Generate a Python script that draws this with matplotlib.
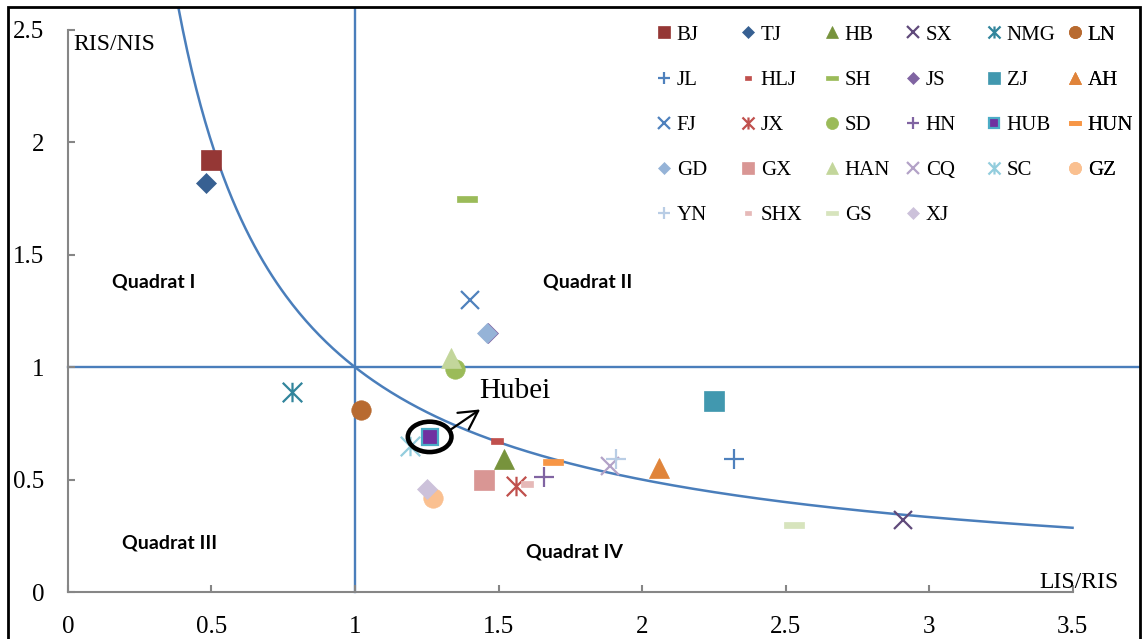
import numpy as np
import matplotlib
matplotlib.use("Agg")
import matplotlib.pyplot as plt
from matplotlib.path import Path
from matplotlib.patches import Ellipse, Rectangle

plt.rcParams['font.family'] = ['Liberation Serif', 'DejaVu Serif']

# province codes and their two ratios
provinces = ["BJ", "TJ", "HB", "SX", "NMG", "LN",
             "JL", "HLJ", "SH", "JS", "ZJ", "AH",
             "FJ", "JX", "SD", "HN", "HUB", "HUN",
             "GD", "GX", "HAN", "CQ", "SC", "GZ",
             "YN", "SHX", "GS", "XJ"]
lis_ris = [0.50, 0.48, 1.52, 2.91, 0.78, 1.02,
           2.32, 1.495, 1.39, 1.465, 2.25, 2.06,
           1.40, 1.56, 1.35, 1.66, 1.26, 1.69,
           1.46, 1.45, 1.335, 1.89, 1.19, 1.27,
           1.91, 1.60, 2.53, 1.25]
ris_nis = [1.92, 1.82, 0.59, 0.32, 0.89, 0.81,
           0.59, 0.67, 1.75, 1.15, 0.85, 0.55,
           1.30, 0.47, 0.99, 0.51, 0.69, 0.58,
           1.15, 0.50, 1.04, 0.56, 0.65, 0.42,
           0.59, 0.48, 0.30, 0.46]

# excel-like marker shapes
asterisk = Path([(-0.5, -0.5), (0.5, 0.5), (-0.5, 0.5), (0.5, -0.5), (0, -0.5), (0, 0.5)],
                [Path.MOVETO, Path.LINETO, Path.MOVETO, Path.LINETO, Path.MOVETO, Path.LINETO])
long_dash = Path([(-0.5, -0.14), (0.5, -0.14), (0.5, 0.14), (-0.5, 0.14), (-0.5, -0.14)],
                 [Path.MOVETO, Path.LINETO, Path.LINETO, Path.LINETO, Path.CLOSEPOLY])
short_dash = Path([(-0.5, -0.25), (0.5, -0.25), (0.5, 0.25), (-0.5, 0.25), (-0.5, -0.25)],
                  [Path.MOVETO, Path.LINETO, Path.LINETO, Path.LINETO, Path.CLOSEPOLY])

shape = {"sq": ("s", 14), "dia": ("D", 10), "tri": ("^", 14), "x": ("x", 13),
         "ast": (asterisk, 14), "o": ("o", 14), "+": ("+", 14),
         "sdash": (short_dash, 8), "ldash": (long_dash, 15)}
markers = ["sq", "dia", "tri", "x", "ast", "o",
           "+", "sdash", "ldash", "dia", "sq", "tri",
           "x", "ast", "o", "+", "sq", "ldash",
           "dia", "sq", "tri", "x", "ast", "o",
           "+", "sdash", "ldash", "dia"]
colors = ["#953735", "#376092", "#77933C", "#604A7B", "#31859C", "#B86A30",
          "#4F81BD", "#C0504D", "#9BBB59", "#8064A2", "#4198AF", "#E0843A",
          "#4F81BD", "#C0504D", "#9BBB59", "#8064A2", "#7030A0", "#F79646",
          "#95B3D7", "#D99694", "#C3D69B", "#B3A2C7", "#93CDDD", "#FAC090",
          "#B9CDE5", "#E6B9B8", "#D7E4BD", "#CCC1DA"]

W, H = 1143, 639
fig = plt.figure(figsize=(W / 100, H / 100), dpi=100)
ax = fig.add_axes([8 / W, 0, (1140 - 8) / W, (H - 7) / H])
ax.set_xlim(-0.209, 3.735)
ax.set_ylim(-0.209, 2.602)

blue = "#4A7EBB"
ax.plot([1, 1], [0, 2.602], color=blue, lw=1.7, zorder=1)
ax.plot([0, 3.735], [1, 1], color=blue, lw=1.7, zorder=1)
xc = np.linspace(1 / 2.602, 3.5, 400)
ax.plot(xc, 1 / xc, color=blue, lw=1.8, zorder=1)

handles = []
for name, x, y, m, c in zip(provinces, lis_ris, ris_nis, markers, colors):
    mk, ms = shape[m]
    kw = dict(marker=mk, ms=ms, ls="none", label=name, zorder=3)
    if m in ("x", "+", "ast"):
        kw.update(mec=c, mfc="none", mew=1.6)
    elif name == "HUB":
        kw.update(mfc=c, mec="#4BACC6", mew=1.6, ms=12)
    else:
        kw.update(mfc=c, mec=c, mew=0.5)
    h, = ax.plot([x], [y], **kw)
    handles.append(h)

# one legend per column so the columns sit on a fixed grid
col_x = [656, 740, 824, 905, 986, 1067]
for c in range(6):
    leg = ax.legend(handles=handles[c::6], loc="upper left",
                    bbox_to_anchor=(col_x[c] / W, 1 - 25 / H), bbox_transform=fig.transFigure,
                    frameon=False, fontsize=15, markerscale=0.62, handlelength=0.8,
                    handletextpad=0.2, labelspacing=1.23, borderpad=0, borderaxespad=0)
    ax.add_artist(leg)

# axes drawn at the origin, grey, with inward ticks
for s in ("top", "right"):
    ax.spines[s].set_visible(False)
ax.spines["left"].set_position(("data", 0))
ax.spines["bottom"].set_position(("data", 0))
ax.spines["left"].set_bounds(0, 2.5)
ax.spines["bottom"].set_bounds(0, 3.5)
for s in ("left", "bottom"):
    ax.spines[s].set_color("#868686")
    ax.spines[s].set_linewidth(1.5)
ax.set_xticks([0, 0.5, 1, 1.5, 2, 2.5, 3, 3.5])
ax.set_xticklabels(["0", "0.5", "1", "1.5", "2", "2.5", "3", "3.5"])
ax.set_yticks([0, 0.5, 1, 1.5, 2, 2.5])
ax.set_yticklabels(["0", "0.5", "1", "1.5", "2", "2.5"])
ax.tick_params(direction="in", length=5, width=1.5, color="#868686", labelsize=18, pad=17)

ax.text(0.017, 2.41, "RIS/NIS", fontsize=17, va="baseline", ha="left")
ax.text(3.385, 0.02, "LIS/RIS", fontsize=17, va="baseline", ha="left")

qfont = dict(family="Lato", fontweight="bold", fontsize=14, ha="center", va="center")
ax.text(0.30, 1.38, "Quadrat I", **qfont)
ax.text(1.81, 1.38, "Quadrat II", **qfont)
ax.text(0.355, 0.22, "Quadrat III", **qfont)
ax.text(1.763, 0.18, "Quadrat IV", **qfont)

# highlight Hubei
hub = provinces.index("HUB")
ax.add_patch(Ellipse((lis_ris[hub], ris_nis[hub]), 0.152, 0.135, fill=False,
                     ec="black", lw=3.3, zorder=4))
ax.annotate("", xy=(1.436, 0.812), xytext=(1.335, 0.724),
            arrowprops=dict(arrowstyle="->,head_length=0.55,head_width=0.3", color="black",
                            lw=1.6, mutation_scale=24, shrinkA=0, shrinkB=0), zorder=4)
ax.text(1.432, 0.862, "Hubei", fontsize=21, va="baseline", ha="left")

fig.add_artist(Rectangle((8 / W, -0.05), (1140 - 8) / W, 1.05 - 7 / H, transform=fig.transFigure,
                         fill=False, ec="black", lw=2))

fig.savefig("out.png", dpi=100)
